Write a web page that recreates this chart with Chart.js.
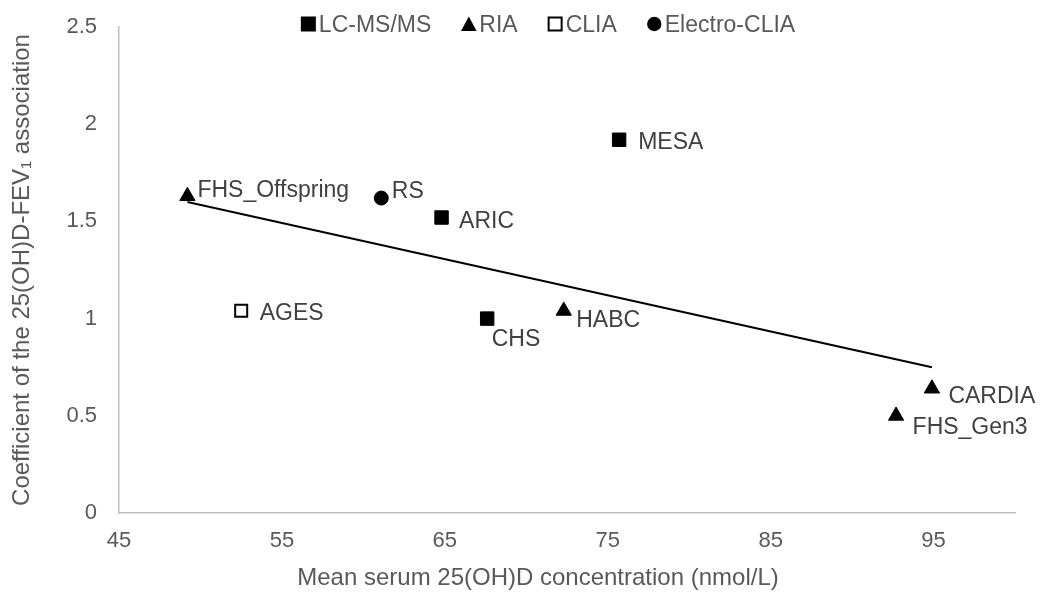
<!DOCTYPE html>
<html>
<head>
<meta charset="utf-8">
<script src="https://cdn.jsdelivr.net/npm/chart.js@4/dist/chart.umd.min.js"></script>
<style>
  html, body { margin: 0; padding: 0; background: #ffffff; }
  #wrap { width: 1048px; height: 597px; }
</style>
</head>
<body>
<div id="wrap"><canvas id="c" width="1048" height="597"></canvas></div>
<script>
// ---- Data ----
const studies  = ['FHS_Offspring', 'RS', 'ARIC', 'MESA', 'AGES', 'CHS', 'HABC', 'CARDIA', 'FHS_Gen3'];
const methods  = ['RIA', 'Electro-CLIA', 'LC-MS/MS', 'LC-MS/MS', 'CLIA', 'LC-MS/MS', 'RIA', 'RIA', 'RIA'];
const meanVitD = [49.2, 61.1, 64.8, 75.7, 52.5, 67.6, 72.3, 94.9, 92.7];
const coefFEV1 = [1.63, 1.62, 1.52, 1.92, 1.04, 1.00, 1.04, 0.64, 0.50];

const methodOrder = ['LC-MS/MS', 'RIA', 'CLIA', 'Electro-CLIA'];

// Linear trendline endpoints
const trendX = [49.2, 94.9];
const trendY = [1.60, 0.75];

const xTicks = [45, 55, 65, 75, 85, 95];
const yTicks = [0, 0.5, 1, 1.5, 2, 2.5];
const yTickLabels = ['0', '0.5', '1', '1.5', '2', '2.5'];

const xTitle = 'Mean serum 25(OH)D concentration (nmol/L)';
const yTitle = 'Coefficient of the 25(OH)D-FEV\u2081 association';

// ---- Styles ----
const FONT = "'Liberation Sans', Arial, Helvetica, sans-serif";
const TEXT_GREY = '#595959';
const LABEL_GREY = '#404040';
const AXIS_GREY = '#bfbfbf';

const markerStyle = {
  'LC-MS/MS':     { pointStyle: 'rect',     pointRadius: 9.5, backgroundColor: '#000', borderColor: '#000', borderWidth: 1 },
  'RIA':          { pointStyle: 'triangle', pointRadius: 8.8, backgroundColor: '#000', borderColor: '#000', borderWidth: 1 },
  'CLIA':         { pointStyle: 'rect',     pointRadius: 8.5, backgroundColor: '#fff', borderColor: '#000', borderWidth: 2 },
  'Electro-CLIA': { pointStyle: 'circle',   pointRadius: 7,   backgroundColor: '#000', borderColor: '#000', borderWidth: 1 }
};

const labelOffsets = {
  'FHS_Offspring': [10, 0.5],
  'RS':            [10.5, 0],
  'ARIC':          [17.5, 10],
  'MESA':          [19, 9],
  'AGES':          [18.5, 9],
  'CHS':           [4.5, 27.7],
  'HABC':          [12.5, 16.5],
  'CARDIA':        [16.5, 14.4],
  'FHS_Gen3':      [16.5, 17.8]
};

// ---- Build datasets from the arrays ----
const datasets = methodOrder.map(m => {
  const idx = methods.map((mm, i) => mm === m ? i : -1).filter(i => i >= 0);
  const st = markerStyle[m];
  return Object.assign({
    type: 'scatter',
    label: m,
    names: idx.map(i => studies[i]),
    data: idx.map(i => ({ x: meanVitD[i], y: coefFEV1[i] })),
    pointHoverRadius: st.pointRadius,
    showInLegend: true
  }, st);
});

datasets.push({
  type: 'line',
  label: 'Linear trend',
  data: trendX.map((x, i) => ({ x: x, y: trendY[i] })),
  borderColor: '#000',
  borderWidth: 2,
  pointRadius: 0,
  fill: false,
  tension: 0,
  showInLegend: false
});

// ---- Plugins ----
const pointLabelPlugin = {
  id: 'pointLabels',
  afterDatasetsDraw(chart) {
    const ctx = chart.ctx;
    ctx.save();
    ctx.font = '23px ' + FONT;
    ctx.fillStyle = LABEL_GREY;
    ctx.textAlign = 'left';
    ctx.textBaseline = 'alphabetic';
    chart.data.datasets.forEach((ds, i) => {
      if (!ds.names) return;
      const meta = chart.getDatasetMeta(i);
      meta.data.forEach((pt, j) => {
        const name = ds.names[j];
        const off = labelOffsets[name] || [10, 0];
        ctx.fillText(name, pt.x + off[0], pt.y + off[1]);
      });
    });
    ctx.restore();
  }
};

function drawMarker(ctx, style, cx, cy) {
  ctx.save();
  ctx.fillStyle = '#000';
  ctx.strokeStyle = '#000';
  if (style === 'LC-MS/MS') {
    ctx.fillRect(cx - 7.5, cy - 7.5, 15, 15);
  } else if (style === 'RIA') {
    ctx.beginPath();
    ctx.moveTo(cx, cy - 7.5);
    ctx.lineTo(cx + 7.8, cy + 7);
    ctx.lineTo(cx - 7.8, cy + 7);
    ctx.closePath();
    ctx.fill();
  } else if (style === 'CLIA') {
    ctx.fillStyle = '#fff';
    ctx.fillRect(cx - 6.5, cy - 6.5, 13, 13);
    ctx.lineWidth = 2;
    ctx.strokeRect(cx - 6.5, cy - 6.5, 13, 13);
  } else {
    ctx.beginPath();
    ctx.arc(cx, cy, 7.2, 0, Math.PI * 2);
    ctx.fill();
  }
  ctx.restore();
}

const topLegendPlugin = {
  id: 'topLegend',
  afterDraw(chart) {
    const ctx = chart.ctx;
    ctx.save();
    ctx.font = '23px ' + FONT;
    ctx.fillStyle = TEXT_GREY;
    ctx.textAlign = 'left';
    ctx.textBaseline = 'alphabetic';
    const items = chart.data.datasets.filter(d => d.showInLegend);
    const box = 15, gap = 3, itemGap = 30;
    const widths = items.map(d => ctx.measureText(d.label).width);
    let total = 0;
    widths.forEach((w, i) => { total += box + gap + w + (i < items.length - 1 ? itemGap : 0); });
    let x = 548 - total / 2;
    const cy = 24, baseY = 32;
    items.forEach((d, i) => {
      drawMarker(ctx, d.label, x + box / 2, cy);
      ctx.fillStyle = TEXT_GREY;
      ctx.fillText(d.label, x + box + gap, baseY);
      x += box + gap + widths[i] + itemGap;
    });
    ctx.restore();
  }
};

// x-axis title, centred under the whole plot as in the reference
const xTitlePlugin = {
  id: 'xAxisTitle',
  afterDraw(chart) {
    const ctx = chart.ctx;
    ctx.save();
    ctx.font = '24px ' + FONT;
    ctx.fillStyle = TEXT_GREY;
    ctx.textAlign = 'center';
    ctx.textBaseline = 'middle';
    ctx.fillText(xTitle, 538, 578);
    ctx.restore();
  }
};

Chart.defaults.font.family = FONT;
Chart.defaults.color = TEXT_GREY;

new Chart(document.getElementById('c'), {
  type: 'scatter',
  data: { datasets: datasets },
  options: {
    responsive: false,
    animation: false,
    devicePixelRatio: 1,
    layout: { padding: { left: 0, right: 33, top: 27, bottom: 0 } },
    plugins: {
      legend: { display: false },
      tooltip: { enabled: false },
      title: { display: false }
    },
    scales: {
      x: {
        type: 'linear',
        min: 45,
        max: 100,
        afterBuildTicks: s => { s.ticks = xTicks.map(v => ({ value: v })); },
        afterFit: s => { s.height = 84; s.paddingLeft = 0; s.paddingRight = 0; },
        grid: { display: false, drawTicks: false },
        border: { display: true, color: AXIS_GREY, width: 1.5 },
        ticks: {
          padding: 15,
          color: TEXT_GREY,
          font: { size: 22 },
          maxRotation: 0,
          autoSkip: false,
          callback: v => String(v)
        },
        title: { display: false, text: xTitle }
      },
      y: {
        type: 'linear',
        min: 0,
        max: 2.5,
        afterBuildTicks: s => { s.ticks = yTicks.map(v => ({ value: v })); },
        afterFit: s => { s.width = 119; s.paddingTop = 0; s.paddingBottom = 0; },
        grid: { display: false, drawTicks: false },
        border: { display: true, color: AXIS_GREY, width: 1.5 },
        ticks: {
          padding: 22,
          color: TEXT_GREY,
          font: { size: 22 },
          autoSkip: false,
          callback: v => { const k = yTicks.indexOf(v); return k >= 0 ? yTickLabels[k] : ''; }
        },
        title: {
          display: true,
          text: yTitle,
          color: TEXT_GREY,
          font: { size: 24 },
          padding: { top: 8, bottom: 0 }
        }
      }
    }
  },
  plugins: [pointLabelPlugin, topLegendPlugin, xTitlePlugin]
});
</script>
</body>
</html>
